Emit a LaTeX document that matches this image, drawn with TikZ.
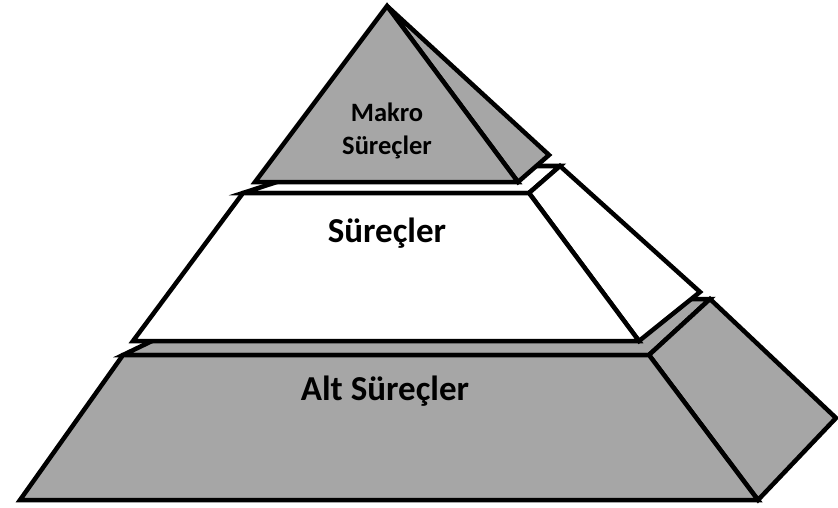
\documentclass[tikz,border=0pt]{standalone}
\usepackage{fontspec}
\setmainfont{Carlito}
\usepackage{xcolor}
\usepackage{tikz}
\definecolor{tier}{HTML}{A6A6A6}
\definecolor{edge}{HTML}{000000}
\tikzset{
  face/.style={draw=edge, line width=4.5pt, line join=miter},
  grayface/.style={face, fill=tier},
  whiteface/.style={face, fill=white},
  lab/.style={text=edge, align=center, inner sep=0pt},
  labbig/.style={lab, font=\fontsize{35}{38}\selectfont\bfseries},
  labsmall/.style={lab, font=\fontsize{26.5}{33}\selectfont\bfseries}
}

\begin{document}
\begin{tikzpicture}[x=1pt,y=-1pt]
  \useasboundingbox (0,0) rectangle (838,508);
  % bottom tier
  \coordinate (B1) at (20,500);
  \coordinate (B2) at (758,500);
  \coordinate (B3) at (649,355);
  \coordinate (B4) at (123,355);
  \coordinate (B5) at (239,299);
  \coordinate (B6) at (710,299);
  \coordinate (B7) at (836,418);
  % middle tier
  \coordinate (M1) at (133,341);
  \coordinate (M2) at (639,341);
  \coordinate (M3) at (529,193);
  \coordinate (M4) at (243,193);
  \coordinate (M5) at (326,166);
  \coordinate (M6) at (560,166);
  \coordinate (M7) at (700,292);
  % top
  \coordinate (T0) at (387,6);
  \coordinate (T1) at (255,182);
  \coordinate (T2) at (518,182);
  \coordinate (T3) at (549,155);

  \draw[grayface] (B4)--(B3)--(B6)--(B5)--cycle;
  \draw[grayface] (B3)--(B6)--(B7)--(B2)--cycle;
  \draw[grayface] (B1)--(B2)--(B3)--(B4)--cycle;

  \draw[whiteface] (M4)--(M3)--(M6)--(M5)--cycle;
  \draw[whiteface] (M3)--(M6)--(M7)--(M2)--cycle;
  \draw[whiteface] (M1)--(M2)--(M3)--(M4)--cycle;

  \draw[grayface] (T0)--(T3)--(T2)--cycle;
  \draw[grayface] (T0)--(T2)--(T1)--cycle;

  \node[labsmall] (makro) at (387,131) {Makro\\Süreçler};
  \node[labbig] (surec) at (387,233) {Süreçler};
  \node[labbig] (alt) at (385,391) {Alt Süreçler};
\end{tikzpicture}
\end{document}
